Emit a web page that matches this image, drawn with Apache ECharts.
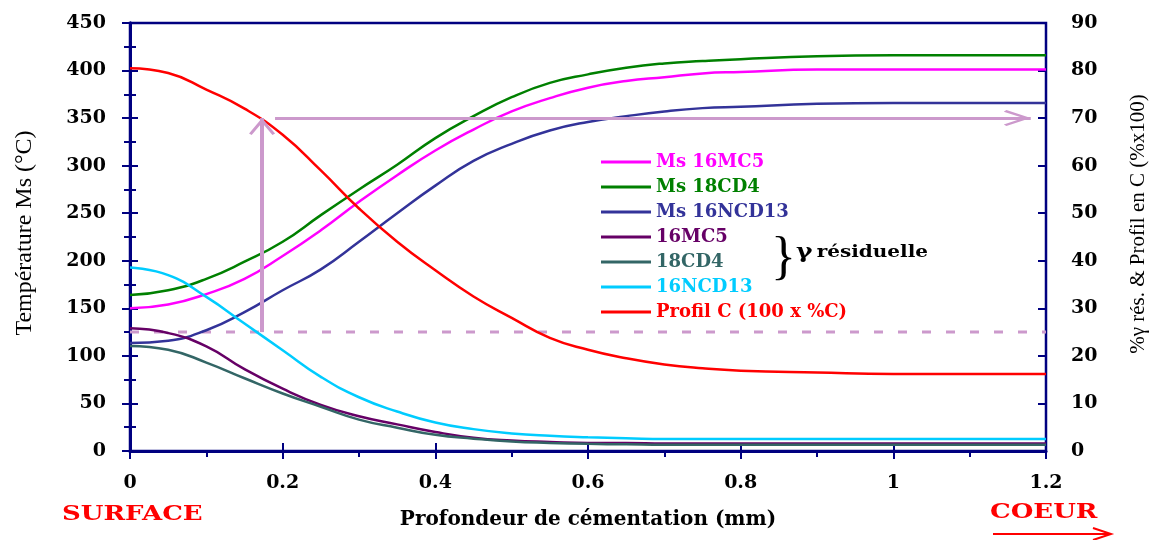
<!DOCTYPE html>
<html>
<head>
<meta charset="utf-8">
<script src="https://cdn.jsdelivr.net/npm/echarts@6/dist/echarts.min.js"></script>
<style>
  html, body { margin: 0; padding: 0; background: #ffffff; }
  #chart { width: 1165px; height: 540px; }
</style>
</head>
<body>
<div id="chart"></div>
<script>
// Case depth (mm) shared by every profile
const depth = [0, 0.05, 0.1, 0.15, 0.2, 0.25, 0.3, 0.35, 0.4, 0.45, 0.5, 0.55, 0.6, 0.65, 0.7, 0.75, 0.8, 0.9, 1.0, 1.1, 1.2];

// Ms temperature (°C), left axis
const msMC5   = [150, 154, 165, 181, 205, 232, 262, 290, 316, 338, 357, 371, 382, 389, 393, 397, 398.5, 401, 401, 401, 401];
const msCD4   = [164, 169, 181, 199, 220, 248, 275, 301, 329, 352, 372, 387, 396, 403, 407.5, 410, 412, 415, 416, 416, 416];
const msNCD13 = [113.5, 116, 127, 146, 169, 191, 220, 250, 279, 305, 323, 337, 346, 352, 357, 360.5, 362, 365, 366, 366, 366];

// Retained austenite (%) and carbon profile (100 x %C), right axis
const gMC5    = [25.8, 24.8, 22.0, 17.2, 13.1, 9.7, 7.3, 5.6, 4.0, 2.8, 2.2, 1.9, 1.7, 1.7, 1.6, 1.6, 1.6, 1.6, 1.6, 1.6, 1.6];
const gCD4    = [22.1, 21.3, 18.6, 15.3, 12.1, 9.3, 6.6, 4.9, 3.4, 2.6, 2.0, 1.7, 1.5, 1.4, 1.3, 1.3, 1.3, 1.3, 1.3, 1.3, 1.3];
const gNCD13  = [38.6, 37.0, 32.4, 26.8, 21.2, 15.6, 11.3, 8.3, 6.0, 4.6, 3.7, 3.2, 2.9, 2.7, 2.5, 2.5, 2.5, 2.5, 2.5, 2.5, 2.5];
const carbon  = [80.5, 79.5, 76.0, 72.0, 66.5, 59.0, 51.0, 44.0, 38.0, 32.5, 28.0, 23.8, 21.3, 19.5, 18.2, 17.4, 16.9, 16.5, 16.2, 16.2, 16.2];

// Reading guide: 25 % retained austenite threshold -> depth -> carbon level
const guideDepth = 0.173;
const guideLow = 25;
const guideHigh = 70;
const guideStart = 0.19;
const guideEnd = 1.18;

// Axis ranges and ticks
const xRange = [0, 1.2], xStep = 0.2;
const yLeftRange = [0, 450], yLeftStep = 50;
const yRightRange = [0, 90], yRightStep = 10;

const AXIS = '#000080';
const GUIDE = '#CC99CC';
const BOLD = { fontFamily: 'DejaVu Serif', fontWeight: 'bold', color: '#000000', fontSize: 19 };

const pairs = vals => depth.map((d, i) => [d, vals[i]]);

// open chevron, tip at the centre of its box so it lands on the line end
const chevron = 'path://M10,0 L10.01,0 Z M0,38 L10,20 L20,38 L18,40 L10,25.5 L2,40 Z';

function curve(name, vals, color, yAxisIndex) {
  return {
    name, type: 'line', yAxisIndex, data: pairs(vals),
    smooth: true, showSymbol: false, symbol: 'none',
    lineStyle: { color, width: 2.5 }, itemStyle: { color },
    emphasis: { disabled: true }
  };
}

const legendItems = [
  ['Ms 16MC5', '#FF00FF'],
  ['Ms 18CD4', '#008000'],
  ['Ms 16NCD13', '#333399'],
  ['16MC5', '#660066'],
  ['18CD4', '#336666'],
  ['16NCD13', '#00CCFF'],
  ['Profil C (100 x %C)', '#FF0000']
];

function tickAxis(base, inside) {
  return Object.assign({}, base, {
    axisLine: { show: !inside, lineStyle: { color: AXIS, width: 3 } },
    axisTick: { show: true, inside, length: 8, lineStyle: { color: AXIS, width: 2 } },
    minorTick: { show: !inside, splitNumber: 2, length: 6, lineStyle: { color: AXIS, width: 2 } },
    splitLine: { show: false },
    minorSplitLine: { show: false }
  });
}

const xBase = { type: 'value', min: xRange[0], max: xRange[1], interval: xStep, position: 'bottom' };
const yLBase = { type: 'value', min: yLeftRange[0], max: yLeftRange[1], interval: yLeftStep, position: 'left' };
const yRBase = { type: 'value', min: yRightRange[0], max: yRightRange[1], interval: yRightStep, position: 'right' };

const chart = echarts.init(document.getElementById('chart'), null, { renderer: 'canvas' });

chart.setOption({
  animation: false,
  backgroundColor: '#ffffff',
  grid: {
    left: 130, right: 119, top: 23, bottom: 89,
    show: true, borderColor: AXIS, borderWidth: 2.5, backgroundColor: 'transparent'
  },
  legend: {
    orient: 'vertical', left: 596, top: 148,
    itemWidth: 50, itemHeight: 3, itemGap: 7, icon: 'rect',
    selectedMode: false,
    textStyle: { fontFamily: 'DejaVu Serif', fontWeight: 'bold', fontSize: 18, lineHeight: 18 },
    data: legendItems.map(([name, color]) => ({ name, textStyle: { color } }))
  },
  xAxis: [
    Object.assign(tickAxis(xBase, false), {
      name: 'Profondeur de cémentation (mm)', nameLocation: 'middle', nameGap: 59,
      nameTextStyle: Object.assign({}, BOLD, { fontSize: 20 }),
      axisLabel: Object.assign({}, BOLD, { margin: 23 })
    }),
    Object.assign(tickAxis(xBase, true), { axisLabel: { show: false } })
  ],
  yAxis: [
    Object.assign(tickAxis(yLBase, false), {
      name: 'Température Ms (°C)', nameLocation: 'middle', nameGap: 93, nameRotate: 90,
      nameTextStyle: { fontFamily: 'Liberation Serif', fontSize: 24, color: '#000000', padding: [0, 0, 0, 8] },
      axisLabel: Object.assign({}, BOLD, { margin: 24 })
    }),
    Object.assign(tickAxis(yRBase, false), {
      name: '%γ rés. & Profil en C (%x100)', nameLocation: 'middle', nameGap: 82, nameRotate: 90,
      nameTextStyle: { fontFamily: 'Liberation Serif', fontSize: 21, color: '#000000', padding: [0, 0, 0, 26] },
      axisLabel: Object.assign({}, BOLD, { margin: 25 })
    }),
    Object.assign(tickAxis(yLBase, true), { axisLabel: { show: false } }),
    Object.assign(tickAxis(yRBase, true), { axisLabel: { show: false } })
  ],
  series: [
    curve('Ms 16MC5', msMC5, '#FF00FF', 0),
    curve('Ms 18CD4', msCD4, '#008000', 0),
    curve('Ms 16NCD13', msNCD13, '#333399', 0),
    curve('16MC5', gMC5, '#660066', 1),
    curve('18CD4', gCD4, '#336666', 1),
    curve('16NCD13', gNCD13, '#00CCFF', 1),
    curve('Profil C (100 x %C)', carbon, '#FF0000', 1),
    {
      name: 'seuil', type: 'line', yAxisIndex: 1,
      data: [[xRange[0], guideLow], [xRange[1], guideLow]],
      showSymbol: false, symbol: 'none', z: 1,
      lineStyle: { color: GUIDE, width: 3, type: [9, 15] },
      emphasis: { disabled: true },
      markLine: {
        silent: true, animation: false,
        label: { show: false },
        lineStyle: { color: GUIDE, width: 3, type: 'solid' },
        data: [
          [
            { coord: [guideDepth, guideLow], symbol: 'none', lineStyle: { width: 4 } },
            { coord: [guideDepth, guideHigh], symbol: chevron, symbolSize: [26, 34] }
          ],
          [
            { coord: [guideStart, guideHigh], symbol: 'none' },
            { coord: [guideEnd, guideHigh], symbol: chevron, symbolSize: [16, 54] }
          ]
        ]
      }
    }
  ],
  graphic: [
    {
      type: 'text', x: 62, y: 505, scaleX: 1.3, z: 10,
      style: { text: 'SURFACE', fill: '#FF0000', font: 'bold 20px "DejaVu Serif"' }
    },
    {
      type: 'text', x: 990, y: 503, scaleX: 1.3, z: 10,
      style: { text: 'COEUR', fill: '#FF0000', font: 'bold 20px "DejaVu Serif"' }
    },
    {
      type: 'line', z: 10,
      shape: { x1: 993, y1: 534, x2: 1110, y2: 534 },
      style: { stroke: '#FF0000', lineWidth: 2 }
    },
    {
      type: 'polyline', z: 10,
      shape: { points: [[1093, 528], [1111, 534], [1093, 540]] },
      style: { stroke: '#FF0000', lineWidth: 2, fill: null }
    },
    {
      type: 'text', x: 771, y: 233, z: 10,
      style: { text: '}', fill: '#000000', font: '52px "Liberation Serif"' }
    },
    {
      type: 'text', x: 796, y: 243, scaleX: 1.25, z: 10,
      style: {
        text: '{g|γ} {r|résiduelle}',
        rich: {
          g: { fontFamily: 'DejaVu Serif', fontWeight: 'bold', fontSize: 20, fill: '#000000' },
          r: { fontFamily: 'DejaVu Serif', fontWeight: 'bold', fontSize: 16, fill: '#000000' }
        }
      }
    }
  ]
});
</script>
</body>
</html>
